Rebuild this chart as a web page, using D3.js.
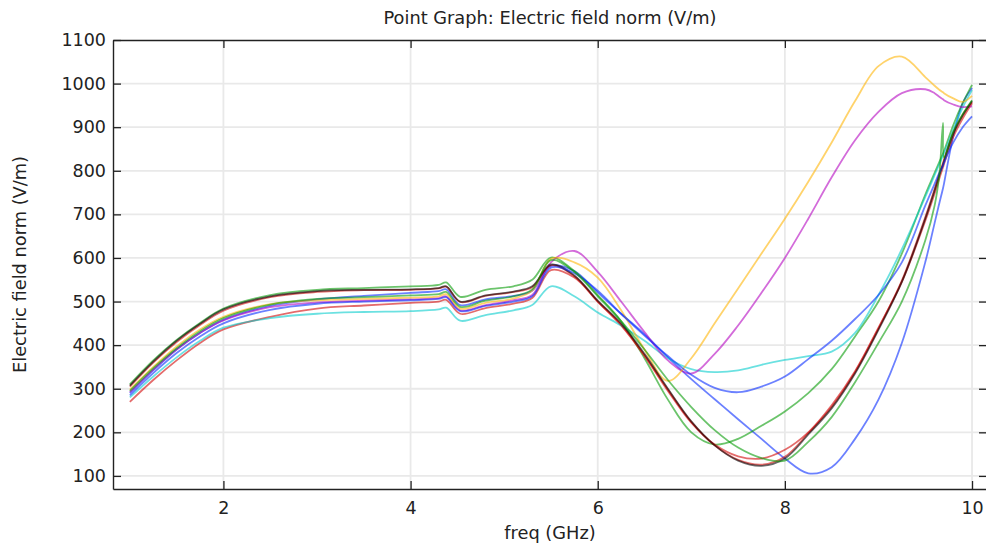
<!DOCTYPE html>
<html>
<head>
<meta charset="utf-8">
<script src="https://cdn.jsdelivr.net/npm/d3@7"></script>
<style>
  body { margin: 0; background: #fff; }
  text { font-family: "DejaVu Sans", sans-serif; fill: #222; }
</style>
</head>
<body>
<svg id="chart" width="986" height="547"></svg>
<script>
// frequency grid (GHz), shared by every curve
const freq = [1, 1.25, 1.5, 1.75, 2, 2.5, 3, 3.5, 4, 4.3,
              4.38, 4.53, 4.8, 5.1, 5.3, 5.5, 5.75, 6, 6.25, 6.5,
              6.75, 7, 7.25, 7.5, 7.75, 8, 8.25, 8.5, 8.75, 9,
              9.25, 9.5, 9.6, 9.65, 9.69, 9.7, 9.8, 9.9, 10];

// electric field norm (V/m), one array per probe point
const blue1 = [290,342,390,428,458,490,505,513,520,524, 528,492,505,513,525,582,570,521,472,425,
               372,322,276,230,185,140,106,120,185,275, 405,590,680,725,760,770,880,955,990];
const green1 = [310,365,412,451,484,515,527,531,535,538, 544,511,527,535,550,601,570,515,455,370,
                275,200,172,185,215,248,290,345,420,500, 610,745,795,820,840,845,905,955,997];
const red1 = [270,320,365,405,436,465,484,491,497,500, 504,472,485,495,508,572,555,500,445,375,
              295,222,172,145,140,160,200,262,340,440, 545,685,748,782,808,815,878,920,955];
const cyan = [280,328,372,410,440,462,472,476,478,482, 486,456,469,480,492,535,512,475,445,410,
              370,345,338,342,355,366,375,385,428,515, 620,740,790,815,835,840,895,945,985];
const magenta = [292,344,390,428,457,487,498,502,505,508, 512,480,492,503,515,590,616,568,500,430,
                 365,335,380,445,520,600,690,785,870,935, 978,987,978,970,964,962,952,946,948];
const yellow = [298,350,397,436,465,494,503,506,509,512, 517,484,497,507,525,598,590,555,480,390,
                318,370,450,530,610,690,775,865,960,1040, 1062,1015,995,986,980,978,966,958,972];
const red2 = [305,360,407,446,479,510,522,526,527,530, 534,499,513,522,533,583,558,500,447,377,
              298,224,170,137,126,144,198,258,338,438, 548,693,758,793,818,825,887,928,958];
const black = [307,362,410,449,482,512,524,527,528,531, 535,500,514,523,535,585,560,502,450,380,
               300,225,170,135,123,140,195,255,335,435, 545,690,755,790,815,822,885,927,960];
const blue2 = [285,336,382,420,450,481,495,500,503,506, 510,478,490,500,512,578,565,525,472,422,
               375,332,302,292,305,328,368,410,460,515, 590,720,770,795,812,818,865,900,925];
const green2 = [295,347,393,432,462,493,506,510,514,517, 522,488,502,512,528,595,568,512,455,390,
                320,258,205,165,141,135,178,235,315,405, 500,640,720,790,910,830,890,930,962];

const xTicks = [2, 4, 6, 8, 10];
const yTicks = [100, 200, 300, 400, 500, 600, 700, 800, 900, 1000, 1100];

const series = [
    {values: blue1, color: '#0026ff'},
    {values: green1, color: '#009a00'},
    {values: red1, color: '#d00000'},
    {values: cyan, color: '#00cccc'},
    {values: magenta, color: '#b400c0'},
    {values: yellow, color: '#ffb300'},
    {values: red2, color: '#d00000'},
    {values: black, color: '#000000'},
    {values: blue2, color: '#0026ff'},
    {values: green2, color: '#009a00'}
];

const svg = d3.select('#chart');
const plotLeft = 113, plotTop = 40, plotRight = 987, plotBottom = 489;

const x = d3.scaleLinear().domain([0.82, 10.16]).range([plotLeft, plotRight]);
const y = d3.scaleLinear().domain([70, 1100]).range([plotBottom, plotTop]);

// grid lines
svg.append('g')
    .selectAll('line')
    .data(xTicks)
    .join('line')
    .attr('x1', d => x(d)).attr('x2', d => x(d))
    .attr('y1', plotTop).attr('y2', plotBottom)
    .attr('stroke', '#e9e9e9').attr('stroke-width', 1.8);
svg.append('g')
    .selectAll('line')
    .data(yTicks.filter(d => d < 1100))
    .join('line')
    .attr('x1', plotLeft).attr('x2', plotRight)
    .attr('y1', d => y(d)).attr('y2', d => y(d))
    .attr('stroke', '#e9e9e9').attr('stroke-width', 1.8);

// curves
svg.append('clipPath').attr('id', 'clip')
    .append('rect')
    .attr('x', plotLeft).attr('y', plotTop)
    .attr('width', plotRight - plotLeft).attr('height', plotBottom - plotTop);

let line = d3.line()
    .x((d, i) => x(freq[i]))
    .y(d => y(d))
    .curve(d3.curveCatmullRom.alpha(0.5));

svg.append('g')
    .attr('clip-path', 'url(#clip)')
    .selectAll('path')
    .data(series)
    .join('path')
    .attr('d', d => line(d.values))
    .attr('fill', 'none')
    .attr('stroke', d => d.color)
    .attr('stroke-opacity', 0.58)
    .attr('stroke-width', 1.8);

// axes, ticks point inward on all four sides
function styleAxis(g) {
    g.attr('font-family', null).attr('font-size', null);
    g.select('.domain').attr('stroke', '#222').attr('stroke-width', 1.4);
    g.selectAll('.tick line').attr('stroke', '#222').attr('stroke-width', 1.3);
    g.selectAll('.tick text').attr('font-size', 17.5).attr('fill', '#222');
}

svg.append('g')
    .attr('transform', `translate(0,${plotBottom})`)
    .call(d3.axisBottom(x).tickValues(xTicks).tickSize(-8).tickSizeOuter(0).tickPadding(13).tickFormat(d3.format('d')))
    .call(styleAxis);
svg.append('g')
    .attr('transform', `translate(0,${plotTop})`)
    .call(d3.axisTop(x).tickValues(xTicks).tickSize(-8).tickSizeOuter(0).tickFormat(''))
    .call(styleAxis);
svg.append('g')
    .attr('transform', `translate(${plotLeft},0)`)
    .call(d3.axisLeft(y).tickValues(yTicks).tickSize(-8).tickSizeOuter(0).tickPadding(7).tickFormat(d3.format('d')))
    .call(styleAxis);
svg.append('g')
    .attr('transform', `translate(${plotRight},0)`)
    .call(d3.axisRight(y).tickValues(yTicks).tickSize(-8).tickSizeOuter(0).tickFormat(''))
    .call(styleAxis);

// title and axis labels
svg.append('text')
    .attr('x', (plotLeft + plotRight) / 2).attr('y', 24)
    .attr('text-anchor', 'middle')
    .attr('font-size', 17.8)
    .text('Point Graph: Electric field norm (V/m)');
svg.append('text')
    .attr('x', (plotLeft + plotRight) / 2).attr('y', 539)
    .attr('text-anchor', 'middle')
    .attr('font-size', 17.8)
    .text('freq (GHz)');
svg.append('text')
    .attr('transform', `translate(26,${(plotTop + plotBottom) / 2}) rotate(-90)`)
    .attr('text-anchor', 'middle')
    .attr('font-size', 17.8)
    .text('Electric field norm (V/m)');
</script>
</body>
</html>
